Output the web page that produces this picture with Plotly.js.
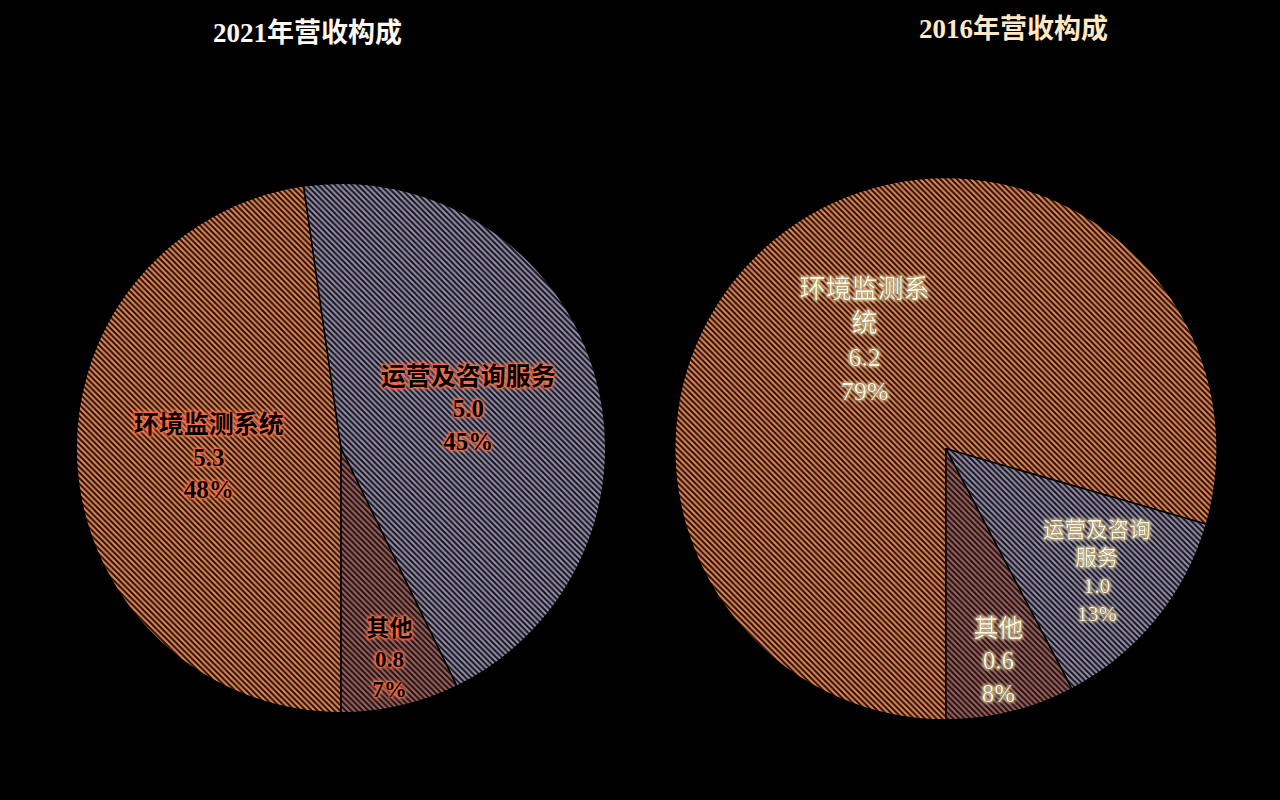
<!DOCTYPE html>
<html>
<head>
<meta charset="utf-8">
<script src="https://cdn.plot.ly/plotly-3.0.1.min.js"></script>
<style>
  html, body { margin: 0; padding: 0; background: #000; }
  #chart { width: 1280px; height: 800px; }
</style>
</head>
<body>
<div id="chart"></div>
<script>
// revenue breakdown (亿元)
const categories = ['环境监测系统', '运营及咨询服务', '其他'];
const values2021 = [5.3, 5.0, 0.8];
const values2016 = [6.2, 1.0, 0.6];
// how the 2016 labels wrap in the original
const labels2016Text = ['环境监测系<br>统', '运营及咨询<br>服务', '其他'];

const sliceColors = ['#ec8450', '#9090b4', '#a06260'];
const serif = 'Liberation Serif, Times New Roman, Noto Sans CJK SC, serif';

function hatch(colors) {
    return {
        shape: '\\',
        fgcolor: colors,
        bgcolor: '#1a1210',
        fillmode: 'replace',
        size: 4,
        solidity: 0.5
    };
}

const glowRed = '0 0 2px #ff6e48, 0 0 2px #ff6e48, 0 0 3px #ff6e48, 0 0 4px #ff7a50, 0 0 5px #ff7a50';
const glowCream = '0 0 1px #000, 0 0 2px #ffe6b0, 0 0 3px #ffe6b0, 0 0 4px #ffe6b0';

const pie2021 = {
    type: 'pie',
    labels: categories,
    values: values2021,
    sort: false,
    direction: 'clockwise',
    rotation: 180,
    domain: {x: [0.0594, 0.4734], y: [0.109, 0.771]},
    textposition: 'inside',
    insidetextorientation: 'horizontal',
    texttemplate: '%{label}<br>%{value:.1f}<br>%{percent:.0%}',
    insidetextfont: {
        family: serif,
        size: 25,
        weight: 'bold',
        color: '#000000',
        shadow: glowRed
    },
    marker: {
        colors: sliceColors,
        line: {color: '#000000', width: 1.5},
        pattern: hatch(sliceColors)
    },
    showlegend: false,
    hoverinfo: 'label+value+percent'
};

const pie2016 = {
    type: 'pie',
    labels: categories,
    values: values2016,
    text: labels2016Text,
    sort: false,
    direction: 'clockwise',
    rotation: 180,
    domain: {x: [0.527, 0.951], y: [0.1, 0.778]},
    textposition: 'inside',
    insidetextorientation: 'horizontal',
    texttemplate: '%{text}<br>%{value:.1f}<br>%{percent:.0%}',
    insidetextfont: {
        family: serif,
        size: 26,
        color: '#fff4dc',
        shadow: glowCream
    },
    marker: {
        colors: sliceColors,
        line: {color: '#000000', width: 1.5},
        pattern: hatch(sliceColors)
    },
    showlegend: false,
    hoverinfo: 'label+value+percent'
};

const layout = {
    width: 1280,
    height: 800,
    margin: {l: 0, r: 0, t: 0, b: 0},
    paper_bgcolor: '#000000',
    plot_bgcolor: '#000000',
    annotations: [
        {
            text: '<b>2021年营收构成</b>',
            x: 0.24, y: 0.959, xref: 'paper', yref: 'paper',
            xanchor: 'center', yanchor: 'middle',
            showarrow: false,
            font: {family: serif, size: 27, color: '#fff8f0'}
        },
        {
            text: '<b>2016年营收构成</b>',
            x: 0.792, y: 0.964, xref: 'paper', yref: 'paper',
            xanchor: 'center', yanchor: 'middle',
            showarrow: false,
            font: {family: serif, size: 27, color: '#ffe8c4'}
        }
    ]
};

Plotly.newPlot('chart', [pie2021, pie2016], layout, {displayModeBar: false, staticPlot: true});
</script>
</body>
</html>
